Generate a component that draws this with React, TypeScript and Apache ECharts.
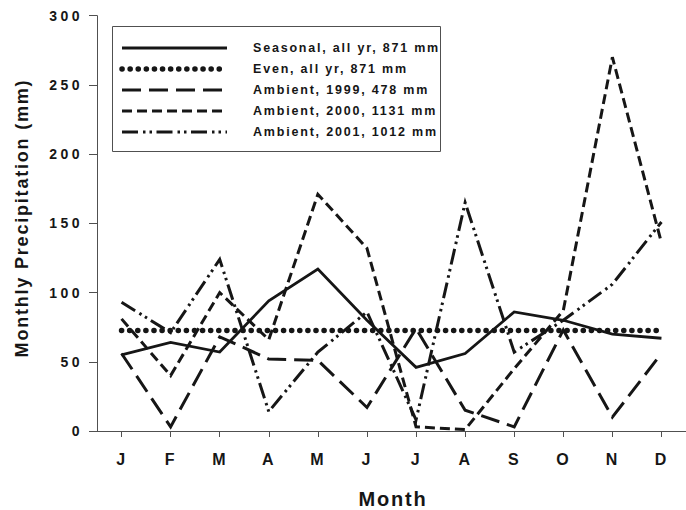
import React, { useEffect, useRef } from "react";
import * as echarts from "echarts";

const months = ["J", "F", "M", "A", "M", "J", "J", "A", "S", "O", "N", "D"];
const seasonal = [55, 64, 57, 94, 117, 80, 46, 56, 86, 80, 70, 67];
const even = [72.6, 72.6, 72.6, 72.6, 72.6, 72.6, 72.6, 72.6, 72.6, 72.6, 72.6, 72.6];
const ambient1999 = [56, 3, 68, 52, 51, 17, 74, 15, 3, 73, 10, 56];
const ambient2000 = [81, 40, 100, 66, 171, 132, 3, 1, 45, 87, 270, 136];
const ambient2001 = [93, 71, 124, 14, 57, 86, 8, 165, 57, 80, 106, 151];
const seriesNames = [
  "Seasonal, all yr, 871 mm",
  "Even, all yr, 871 mm",
  "Ambient, 1999, 478 mm",
  "Ambient, 2000, 1131 mm",
  "Ambient, 2001, 1012 mm",
];
const yMin = 0;
const yMax = 300;
const yInterval = 50;
const xTitle = "Month";
const yTitle = "Monthly Precipitation (mm)";

const FONT = '"Liberation Sans", Arial, Helvetica, sans-serif';
const INK = "#161616";
const AXIS = "#505050";

const styles = [
  { width: 2.8, type: "solid" as any, cap: "butt" },
  { width: 5.5, type: [0.1, 8] as any, cap: "round" },
  { width: 3, type: [19, 8] as any, cap: "butt" },
  { width: 3, type: [10, 5] as any, cap: "butt" },
  { width: 3, type: [16, 5, 2.5, 4, 2.5, 4.5] as any, cap: "butt" },
];

export default function App() {
  const ref = useRef<HTMLDivElement>(null);
  useEffect(() => {
    if (!ref.current) return;
    const chart = echarts.init(ref.current, undefined, { renderer: "svg" });
    const datasets = [seasonal, even, ambient1999, ambient2000, ambient2001];

    const legendRows = seriesNames.map((name, i) => {
      const y = 48 + i * 21;
      return [
        {
          type: "line",
          shape: { x1: 122, y1: y, x2: 227, y2: y },
          style: {
            stroke: INK,
            lineWidth: styles[i].width,
            lineDash: styles[i].type === "solid" ? null : styles[i].type,
            lineCap: styles[i].cap,
          },
        },
        {
          type: "text",
          x: 253,
          y: y,
          style: {
            text: name,
            font: `bold 12.5px ${FONT}`,
            fill: INK,
            align: "left",
            verticalAlign: "middle",
          },
        },
      ];
    });

    chart.setOption({
      animation: false,
      grid: { left: 97, right: -3.7, top: 15.7, bottom: 79, containLabel: false },
      xAxis: {
        type: "category",
        data: months,
        boundaryGap: true,
        axisLine: { show: true, lineStyle: { color: AXIS, width: 1 } },
        axisTick: { show: true, alignWithLabel: true, length: 6, lineStyle: { color: AXIS } },
        axisLabel: {
          margin: 20,
          color: INK,
          fontWeight: "bold",
          fontSize: 16,
          fontFamily: FONT,
        },
        splitLine: { show: false },
      },
      yAxis: {
        type: "value",
        min: yMin,
        max: yMax,
        interval: yInterval,
        axisLine: { show: true, lineStyle: { color: AXIS, width: 1 } },
        axisTick: { show: true, length: 8, lineStyle: { color: AXIS } },
        axisLabel: {
          margin: 14,
          color: INK,
          fontWeight: "bold",
          fontSize: 14,
          fontFamily: FONT,
        },
        splitLine: { show: false },
      },
      series: datasets.map((d, i) => ({
        name: seriesNames[i],
        type: "line",
        data: d,
        symbol: "none",
        z: 10 - i,
        lineStyle: {
          color: INK,
          width: styles[i].width,
          type: styles[i].type,
          cap: styles[i].cap,
          join: "miter",
        },
      })),
      graphic: [
        {
          type: "rect",
          shape: { x: 112.5, y: 26.5, width: 328, height: 125 },
          style: { fill: "#ffffff", stroke: AXIS, lineWidth: 1 },
          z: 100,
        },
        ...legendRows.flat().map((e) => ({ ...e, z: 101 })),
        {
          type: "text",
          x: 22,
          y: 218,
          rotation: Math.PI / 2,
          style: {
            text: yTitle,
            font: `bold 18px ${FONT}`,
            fill: INK,
            align: "center",
            verticalAlign: "middle",
          },
        },
        {
          type: "text",
          x: 393,
          y: 499,
          style: {
            text: xTitle,
            font: `bold 20px ${FONT}`,
            fill: INK,
            align: "center",
            verticalAlign: "middle",
          },
        },
      ],
    });
    return () => chart.dispose();
  }, []);

  return (
    <>
      <style>{`#prcp text{letter-spacing:1.8px}#prcp text[style*="14px"]{letter-spacing:3.5px}`}</style>
      <div
        id="prcp"
        ref={ref}
        style={{ position: "fixed", left: 0, top: 0, width: 686, height: 510, background: "#fff" }}
      />
    </>
  );
}
